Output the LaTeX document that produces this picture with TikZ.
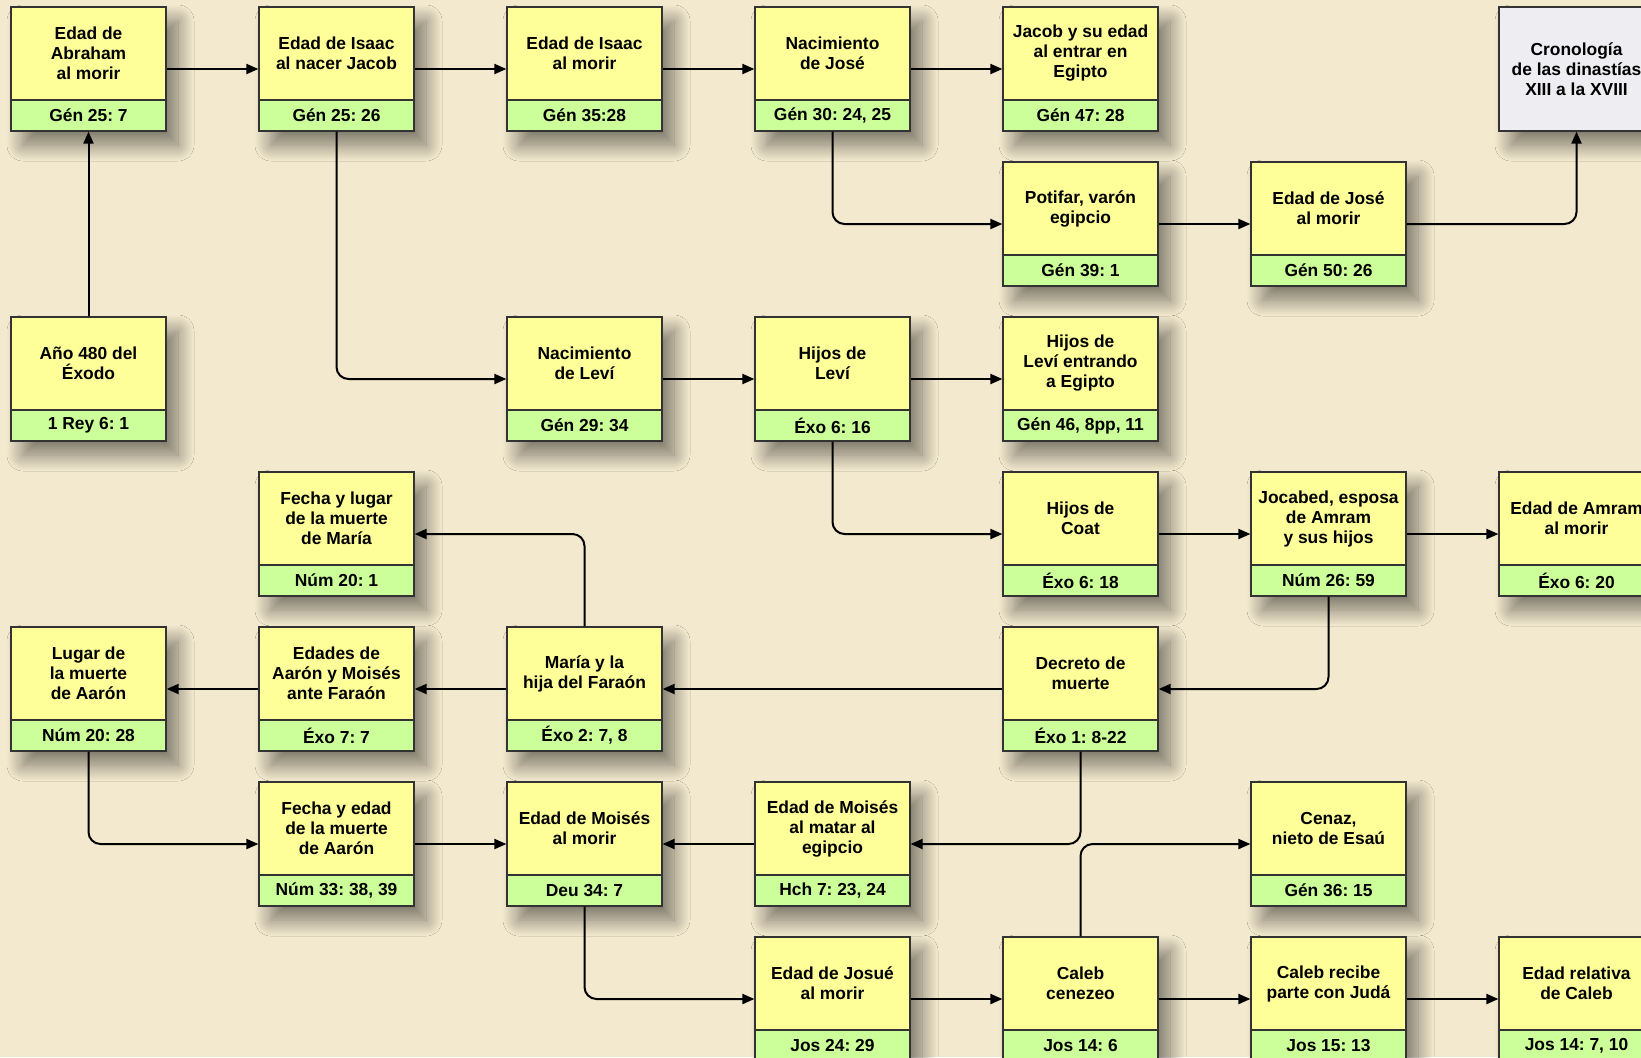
\documentclass[tikz,border=0pt]{standalone}
\usepackage{fontspec}
\setmainfont{Liberation Sans}
\frenchspacing
\usetikzlibrary{arrows.meta,shadows.blur}

\definecolor{fondo}{HTML}{F3E9CF}
\definecolor{amarillo}{HTML}{FFFF99}
\definecolor{verde}{HTML}{CCFF99}
\definecolor{gris}{HTML}{EEEEF2}

\tikzset{
  caja/.style={draw=black!80, line width=0.6pt, fill=amarillo, minimum width=77.5pt,
    minimum height=62pt, inner sep=0pt,
    blur shadow={shadow xshift=6pt, shadow yshift=-7pt, shadow blur radius=8pt,
      shadow blur steps=24, shadow opacity=50}},
  cita/.style={draw=black!80, line width=0.6pt, fill=verde, minimum width=77.5pt,
    minimum height=15.5pt, inner sep=0pt, font=\bfseries\fontsize{8.7}{10}\selectfont},
  titulo/.style={align=center, inner sep=0pt, font=\bfseries\fontsize{8.7}{10}\selectfont},
  flecha/.style={line width=1pt, rounded corners=6pt, -{Triangle[length=6pt, width=5pt]}}
}

% name, column, row, title, reference
\newcommand\caja[5]{%
  \node[caja] (#1) at ({88.5+248*#2},{69+155*#3}) {};
  \node[cita, anchor=south] (#1-r) at (#1.south) {#5};
  \node[titulo] (#1-t) at ([yshift=7.75pt]#1.center) {#4};
}

\begin{document}
\begin{tikzpicture}[x=0.5pt, y=-0.5pt]
  \useasboundingbox (0,0) rectangle (1641,1057);
  \clip (0,0) rectangle (1641,1057);
  \fill[fondo] (0,0) rectangle (1641,1057);

  % first row
  \caja{abraham}{0}{0}{Edad de\\Abraham\\al morir}{Gén 25: 7}
  \caja{isaacJacob}{1}{0}{Edad de Isaac\\al nacer Jacob}{Gén 25: 26}
  \caja{isaacMorir}{2}{0}{Edad de Isaac\\al morir}{Gén 35:28}
  \caja{nacJose}{3}{0}{Nacimiento\\de José}{Gén 30: 24, 25}
  \caja{jacobEgipto}{4}{0}{Jacob y su edad\\al entrar en\\Egipto}{Gén 47: 28}
  \node[caja, fill=gris] (cronologia) at ({88.5+248*6},69) {};
  \node[titulo] (cronologia-t) at (cronologia.center) {Cronología\\de las dinastías\\XIII a la XVIII};

  \caja{potifar}{4}{1}{Potifar, varón\\egipcio}{Gén 39: 1}
  \caja{joseMorir}{5}{1}{Edad de José\\al morir}{Gén 50: 26}

  \caja{exodo}{0}{2}{Año 480 del\\Éxodo}{1 Rey 6: 1}
  \caja{nacLevi}{2}{2}{Nacimiento\\de Leví}{Gén 29: 34}
  \caja{hijosLevi}{3}{2}{Hijos de\\Leví}{Éxo 6: 16}
  \caja{leviEgipto}{4}{2}{Hijos de\\Leví entrando\\a Egipto}{Gén 46, 8pp, 11}

  \caja{mariaMuerte}{1}{3}{Fecha y lugar\\de la muerte\\de María}{Núm 20: 1}
  \caja{coat}{4}{3}{Hijos de\\Coat}{Éxo 6: 18}
  \caja{jocabed}{5}{3}{Jocabed, esposa\\de Amram\\y sus hijos}{Núm 26: 59}
  \caja{amram}{6}{3}{Edad de Amram\\al morir}{Éxo 6: 20}

  \caja{lugarAaron}{0}{4}{Lugar de\\la muerte\\de Aarón}{Núm 20: 28}
  \caja{edades}{1}{4}{Edades de\\Aarón y Moisés\\ante Faraón}{Éxo 7: 7}
  \caja{mariaHija}{2}{4}{María y la\\hija del Faraón}{Éxo 2: 7, 8}
  \caja{decreto}{4}{4}{Decreto de\\muerte}{Éxo 1: 8-22}

  \caja{fechaAaron}{1}{5}{Fecha y edad\\de la muerte\\de Aarón}{Núm 33: 38, 39}
  \caja{moisesMorir}{2}{5}{Edad de Moisés\\al morir}{Deu 34: 7}
  \caja{moisesEgipcio}{3}{5}{Edad de Moisés\\al matar al\\egipcio}{Hch 7: 23, 24}
  \caja{cenaz}{5}{5}{Cenaz,\\nieto de Esaú}{Gén 36: 15}

  \caja{josue}{3}{6}{Edad de Josué\\al morir}{Jos 24: 29}
  \caja{caleb}{4}{6}{Caleb\\cenezeo}{Jos 14: 6}
  \caja{calebJuda}{5}{6}{Caleb recibe\\parte con Judá}{Jos 15: 13}
  \caja{calebEdad}{6}{6}{Edad relativa\\de Caleb}{Jos 14: 7, 10}

  % connectors
  \draw[flecha] (exodo) -- (abraham);
  \draw[flecha] (abraham) -- (isaacJacob);
  \draw[flecha] (isaacJacob) -- (isaacMorir);
  \draw[flecha] (isaacMorir) -- (nacJose);
  \draw[flecha] (nacJose) -- (jacobEgipto);
  \draw[flecha] (nacJose) |- (potifar);
  \draw[flecha] (potifar) -- (joseMorir);
  \draw[flecha] (joseMorir) -| (cronologia);
  \draw[flecha] (isaacJacob) |- (nacLevi);
  \draw[flecha] (nacLevi) -- (hijosLevi);
  \draw[flecha] (hijosLevi) -- (leviEgipto);
  \draw[flecha] (hijosLevi) |- (coat);
  \draw[flecha] (coat) -- (jocabed);
  \draw[flecha] (jocabed) -- (amram);
  \draw[flecha] (jocabed) |- (decreto);
  \draw[flecha] (decreto) -- (mariaHija);
  \draw[flecha] (mariaHija) |- (mariaMuerte);
  \draw[flecha] (mariaHija) -- (edades);
  \draw[flecha] (edades) -- (lugarAaron);
  \draw[flecha] (lugarAaron) |- (fechaAaron);
  \draw[flecha] (fechaAaron) -- (moisesMorir);
  \draw[flecha] (decreto) |- (moisesEgipcio);
  \draw[flecha] (moisesEgipcio) -- (moisesMorir);
  \draw[flecha] (moisesMorir) |- (josue);
  \draw[flecha] (josue) -- (caleb);
  \draw[flecha] (caleb) -- (calebJuda);
  \draw[flecha] (calebJuda) -- (calebEdad);
  \draw[flecha] (caleb) |- (cenaz);
\end{tikzpicture}
\end{document}
